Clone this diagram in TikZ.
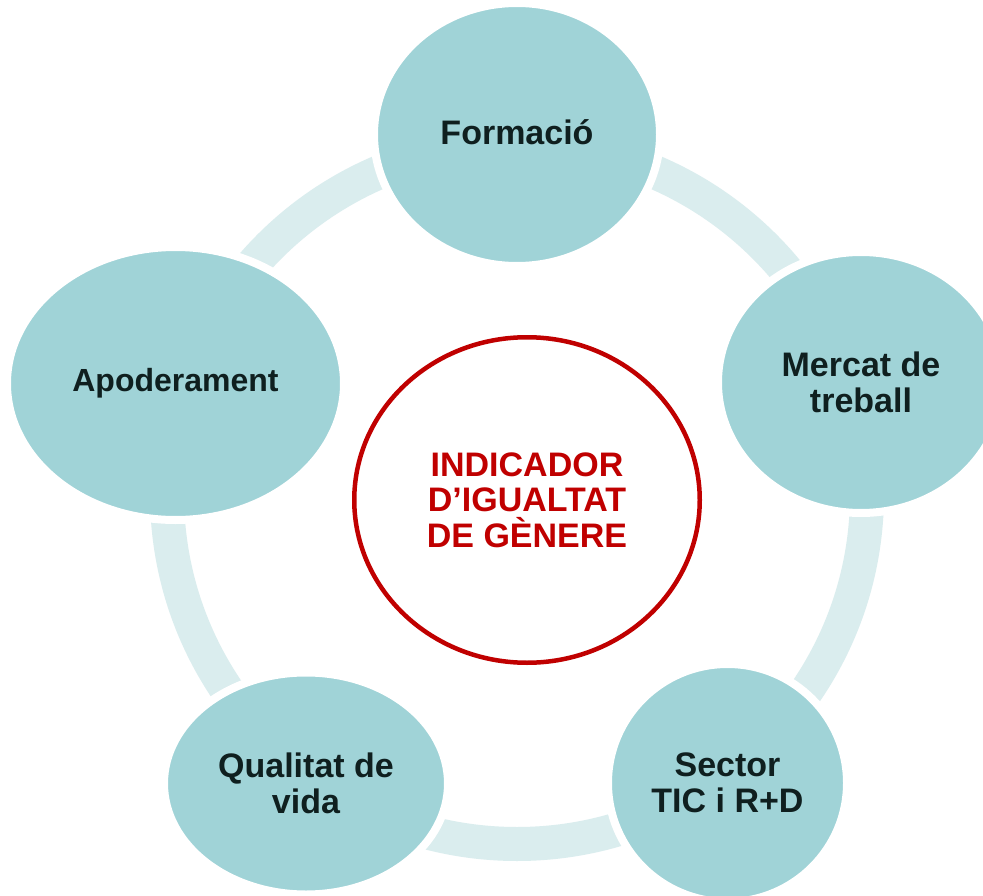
\documentclass[tikz,border=0pt]{standalone}
\usepackage{fontspec}
\setmainfont{Liberation Sans}
\usetikzlibrary{shapes.geometric}
\definecolor{topicfill}{HTML}{A0D3D7}
\definecolor{bandcol}{HTML}{DAEDEE}
\definecolor{ink}{HTML}{0F1F1F}
\definecolor{hubred}{HTML}{C00000}
\begin{document}
\begin{tikzpicture}[x=1pt,y=-1pt,
  topic/.style={ellipse, fill=topicfill, draw=white, line width=8pt, inner sep=0pt,
    align=center, text=ink, font=\bfseries\fontsize{34}{36}\selectfont},
  hub/.style={ellipse, draw=hubred, line width=4.5pt, fill=white, inner sep=0pt,
    align=center, text=hubred, font=\bfseries\fontsize{34}{35.5}\selectfont},
  ringband/.style={draw=bandcol, line width=34pt}]
\useasboundingbox (0,0) rectangle (983,896);
\clip (0,0) rectangle (983,896);
\fill[white] (0,0) rectangle (983,896);
\coordinate (rc) at (517,494);
\draw[ringband] (rc) circle[radius=350pt];
\node[topic, minimum width=286pt, minimum height=263pt, text height=21pt] (form) at (517,134.5) {Formació};
\node[topic, minimum width=286pt, minimum height=261pt] (merc) at (861,382.5) {Mercat de\\treball};
\node[topic, minimum width=239pt, minimum height=238pt] (sect) at (727.5,783) {Sector\\TIC i R+D};
\node[topic, minimum width=284pt, minimum height=222pt] (qual) at (306,783.5) {Qualitat de\\vida};
\node[topic, minimum width=337pt, minimum height=273pt, font=\bfseries\fontsize{32}{34}\selectfont] (apod) at (175.5,383.5) {Apoderament};
\node[hub, minimum width=345.5pt, minimum height=325.5pt] (hub) at (527,500) {INDICADOR\\D’IGUALTAT\\DE GÈNERE};
\end{tikzpicture}
\end{document}
